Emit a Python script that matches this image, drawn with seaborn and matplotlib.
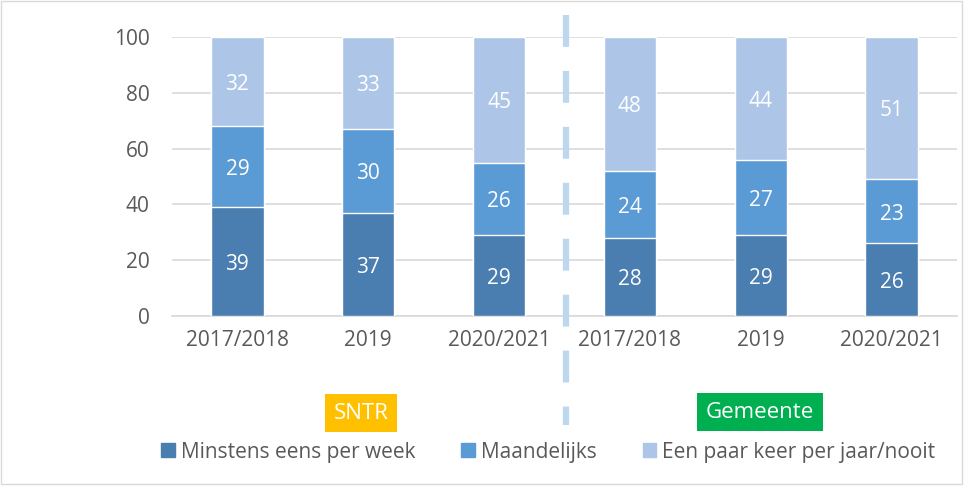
import matplotlib.pyplot as plt
import matplotlib.patches as mpatches
import seaborn as sns
import pandas as pd
import numpy as np

# data
years = ['2017/2018', '2019', '2020/2021', '2017/2018', '2019', '2020/2021']
groups = ['SNTR', 'SNTR', 'SNTR', 'Gemeente', 'Gemeente', 'Gemeente']
weekly = [39, 37, 29, 28, 29, 26]
monthly = [29, 30, 26, 24, 27, 23]
rarely = [32, 33, 45, 48, 44, 51]
series = ['Minstens eens per week', 'Maandelijks', 'Een paar keer per jaar/nooit']
colors = ['#4A7DB0', '#5B9BD5', '#ADC6E7']

sns.set_style('white')
plt.rcParams['font.family'] = ['Open Sans', 'DejaVu Sans']
grey = '#595959'
fs = 15

df = pd.DataFrame({'key': [f'{g} {y}' for g, y in zip(groups, years)],
                   'weekly': weekly, 'monthly': monthly, 'rarely': rarely})
df['c1'] = df['weekly']
df['c2'] = df['weekly'] + df['monthly']
df['c3'] = df['c2'] + df['rarely']

fig = plt.figure(figsize=(9.74, 4.9), dpi=100)
ax = fig.add_axes([0.1766, 0.3551, 0.8059, 0.5694])

# stacked bars: draw cumulative totals from top to bottom
for col, c in zip(['c3', 'c2', 'c1'], colors[::-1]):
    sns.barplot(data=df, x='key', y=col, color=c, width=0.4, ax=ax,
                saturation=1, errorbar=None, zorder=3)

# segment labels
for i, row in df.iterrows():
    bottoms = [0, row['c1'], row['c2']]
    for b, v in zip(bottoms, [row['weekly'], row['monthly'], row['rarely']]):
        ax.text(i, b + v / 2 - 1, f'{v}', ha='center', va='center',
                color='white', fontsize=fs, zorder=5)

ax.set_ylim(0, 100)
ax.set_xlim(-0.5, 5.5)
ax.set_yticks(range(0, 101, 20))
ax.set_xticks(range(len(years)))
ax.set_xticklabels(years)
ax.set_xlabel('')
ax.set_ylabel('')
ax.tick_params(axis='both', length=0, labelsize=fs, colors=grey)
ax.tick_params(axis='x', pad=10)
ax.tick_params(axis='y', pad=16)
ax.yaxis.grid(True, color='#D9D9D9', linewidth=1.2, zorder=0)
ax.set_axisbelow(True)
for s in ['top', 'right', 'left']:
    ax.spines[s].set_visible(False)
ax.spines['bottom'].set_color('#D9D9D9')
ax.spines['bottom'].set_linewidth(1.2)

# dashed divider between the two groups (drawn top-down)
ax.plot([2.51, 2.51], [108, -39], color='#BDD7EE', linewidth=4.5,
        linestyle=(0, (5.1, 3.85)), solid_capstyle='butt',
        dash_capstyle='butt', clip_on=False, zorder=6)

# group labels
fig.text(361 / 974, 1 - 413 / 490, 'SNTR', ha='center', va='center',
         color='white', fontsize=16,
         bbox=dict(boxstyle='square,pad=0.4', fc='#FFC000', ec='none'))
fig.text(760 / 974, 1 - 412 / 490, 'Gemeente', ha='center', va='center',
         color='white', fontsize=16,
         bbox=dict(boxstyle='square,pad=0.4', fc='#00B050', ec='none'))

handles = [mpatches.Patch(color=c, label=s) for c, s in zip(colors, series)]
leg = fig.legend(handles=handles, loc='center', ncol=3,
                 bbox_to_anchor=(0.563, 1 - 452 / 490), frameon=False,
                 fontsize=fs, handlelength=0.65, handleheight=0.65,
                 handletextpad=0.3, columnspacing=2.2)
for t in leg.get_texts():
    t.set_color(grey)

# outer border
fig.patches.append(mpatches.Rectangle((0.001, 0.012), 0.987, 0.986,
                                      transform=fig.transFigure, fill=False,
                                      ec='#D9D9D9', lw=1))

fig.savefig('out.png', dpi=100)
